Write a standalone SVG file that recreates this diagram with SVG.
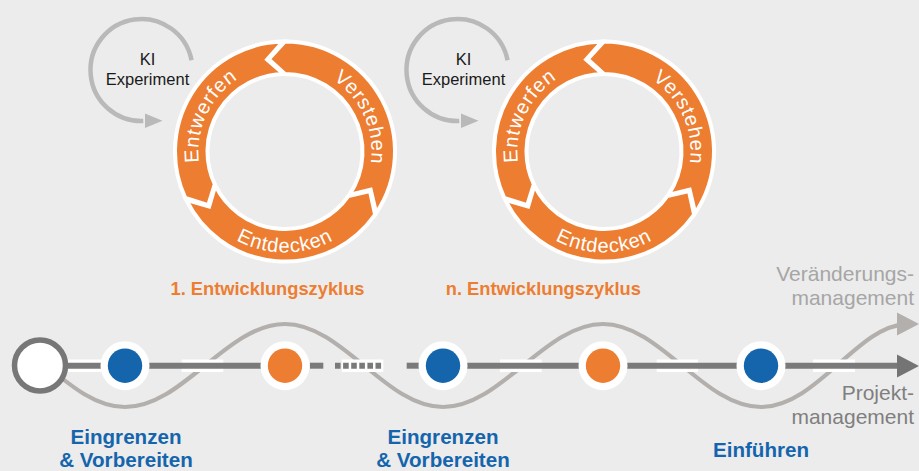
<svg xmlns="http://www.w3.org/2000/svg" width="919" height="471" viewBox="0 0 919 471">
<style>
.seg{fill:#ED7D31;stroke:#ffffff;stroke-width:4;stroke-linejoin:miter}
.rt{font-family:"Liberation Sans",Arial,sans-serif;font-size:20px;letter-spacing:0.8px;fill:#ffffff}
.ki{font-family:"Liberation Sans",Arial,sans-serif;font-size:16.5px;fill:#1a1a1a;text-anchor:middle}
.kiarc{fill:none;stroke:#b9b9b9;stroke-width:4.5}
.kihead{fill:#b9b9b9}
.title{font-family:"Liberation Sans",Arial,sans-serif;font-weight:bold;font-size:18.3px;fill:#ED7D31;text-anchor:middle}
.lbl{font-family:"Liberation Sans",Arial,sans-serif;font-weight:bold;font-size:20.6px;fill:#1565AD;text-anchor:middle}
.side{font-family:"Liberation Sans",Arial,sans-serif;font-size:21px;text-anchor:end}
.bar{fill:#ffffff}
.main{stroke:#7a7a7a;stroke-width:6;fill:none}
.ring{fill:#ffffff}
.blue{fill:#1565AD}
.orange{fill:#ED7D31}
</style>
<defs>
<path id="pV" d="M9.05,-86.13 A86.6,86.6 0 0,1 70.06,50.90"/>
<path id="pW" d="M-70.94,49.67 A86.6,86.6 0 0,1 -7.55,-86.27"/>
<path id="pD" d="M-87.47,50.5 A101,101 0 0,0 87.47,50.5"/>
<g id="cyc">
<path class="seg" d="M0,-110 A110,110 0 0,1 91.19,61.51 L85.65,38.13 L64.25,43.34 A77.5,77.5 0 0,0 0,-77.5 L-16.28,-92.33 Z"/>
<path class="seg" d="M90.11,63.09 A110,110 0 0,1 -98.87,48.22 L-75.85,55.11 L-69.66,33.97 A77.5,77.5 0 0,0 63.48,44.45 L84.97,39.62 Z"/>
<path class="seg" d="M-99.69,46.49 A110,110 0 0,1 -1.92,-109.98 L-17.89,-92.03 L-1.35,-77.49 A77.5,77.5 0 0,0 -70.24,32.75 L-76.80,53.77 Z"/>
<text class="rt"><textPath href="#pV" startOffset="50%" text-anchor="middle">Verstehen</textPath></text>
<text class="rt"><textPath href="#pW" startOffset="50%" text-anchor="middle">Entwerfen</textPath></text>
<text class="rt"><textPath href="#pD" startOffset="50%" text-anchor="middle">Entdecken</textPath></text>
</g>
<g id="kiexp">
<path class="kiarc" d="M191.56,60.27 A51,51 0 1,0 143.28,120.97"/>
<polygon class="kihead" points="145,113.5 162.5,120.8 145,128"/>
<text class="ki" x="147.5" y="65">KI</text>
<text class="ki" x="147.5" y="85">Experiment</text>
</g>
</defs>
<rect width="919" height="471" fill="#ECECEC"/>

<g id="ki1"><use href="#kiexp"/></g>
<g id="ki2"><use href="#kiexp" transform="translate(316,0)"/></g>
<g id="cycle1" transform="translate(285,151.5)"><use href="#cyc"/></g>
<g id="cycle2" transform="translate(604,151.5)"><use href="#cyc"/></g>

<text class="title" x="267.5" y="295">1. Entwicklungszyklus</text>
<text class="title" x="543.3" y="295">n. Entwicklungszyklus</text>

<g id="connectors">
<path id="wave" d="M46,365.5 C71.8,386.8 96.4,407 125,407 C183.1,407 226.9,324 285,324 C342.4,324 385.6,407 443,407 C501.1,407 544.9,324 603,324 C660.4,324 703.6,407 761,407 C816,407 858,326 905,324.3" fill="none" stroke="#B3AFAC" stroke-width="4.2"/>
<polygon points="897,312.5 919,324 897,335.5" fill="#B3AFAC"/>
<rect class="bar" x="68" y="359.5" width="33" height="12.5"/>
<rect class="bar" x="181.7" y="359.5" width="41.6" height="12.5"/>
<rect class="bar" x="341.7" y="359.5" width="41.6" height="12.5"/>
<rect class="bar" x="500" y="359.5" width="41.7" height="12.5"/>
<rect class="bar" x="656.7" y="359.5" width="41.3" height="12.5"/>
<rect class="bar" x="813" y="359.5" width="42" height="12.5"/>
<line class="main" x1="66" y1="365.7" x2="305" y2="365.7"/>
<line class="main" x1="310" y1="365.7" x2="323.3" y2="365.7"/>
<line class="main" x1="335" y1="365.7" x2="383.5" y2="365.7" stroke-dasharray="5.6 2.5"/>
<line class="main" x1="406.7" y1="365.7" x2="425" y2="365.7"/>
<line class="main" x1="425" y1="365.7" x2="899" y2="365.7"/>
<polygon points="897,354.5 919,366 897,377.5" fill="#747474"/>
</g>

<g id="start"><circle cx="40" cy="365.5" r="25.5" fill="#ffffff" stroke="#777777" stroke-width="5.5"/></g>
<g id="n1"><circle class="ring" cx="125" cy="365.7" r="24.5"/><circle class="blue" cx="125" cy="365.7" r="17.2"/></g>
<g id="n2"><circle class="ring" cx="285" cy="365.7" r="24.5"/><circle class="orange" cx="285" cy="365.7" r="17.2"/></g>
<g id="n3"><circle class="ring" cx="443" cy="365.7" r="24.5"/><circle class="blue" cx="443" cy="365.7" r="17.2"/></g>
<g id="n4"><circle class="ring" cx="603" cy="365.7" r="24.5"/><circle class="orange" cx="603" cy="365.7" r="17.2"/></g>
<g id="n5"><circle class="ring" cx="761" cy="365.7" r="24.5"/><circle class="blue" cx="761" cy="365.7" r="17.2"/></g>

<text class="lbl" x="126" y="444">Eingrenzen</text>
<text class="lbl" x="126" y="466.5">&amp; Vorbereiten</text>
<text class="lbl" x="443" y="444">Eingrenzen</text>
<text class="lbl" x="443" y="466.5">&amp; Vorbereiten</text>
<text class="lbl" x="761" y="456.5">Einführen</text>

<text class="side" x="914" y="281" fill="#A6A6A6">Veränderungs-</text>
<text class="side" x="914" y="304.5" fill="#A6A6A6">management</text>
<text class="side" x="914" y="400" fill="#7F7F7F">Projekt-</text>
<text class="side" x="914" y="423.5" fill="#7F7F7F">management</text>
</svg>
